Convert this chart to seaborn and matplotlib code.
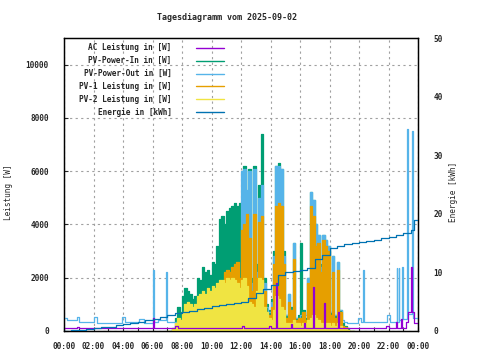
import numpy as np
import pandas as pd
import matplotlib
matplotlib.use("Agg")
import matplotlib.pyplot as plt
from matplotlib.lines import Line2D
import seaborn as sns

title = "Tagesdiagramm vom 2025-09-02"
hour_ticks = list(range(0, 25, 2))
hour_labels = ["00:00", "02:00", "04:00", "06:00", "08:00", "10:00", "12:00",
               "14:00", "16:00", "18:00", "20:00", "22:00", "00:00"]

series_labels = ["AC Leistung in [W]", "PV-Power-In in [W]", "PV-Power-Out in [W]",
                 "PV-1 Leistung in [W]", "PV-2 Leistung in [W]", "Energie in [kWh]"]
series_colors = ["#9400D3", "#009E73", "#56B4E9", "#E69F00", "#F0E442", "#0072B2"]

# daytime values, 10-minute bins starting 07:00
day_start = 7.0
pv_in = [0, 0, 100, 500, 900, 700, 1300, 1600, 1500, 1400, 1200, 1300,
         2000, 1900, 2400, 2200, 2300, 2100, 2600, 2500, 3200, 4200, 4300, 4000,
         4500, 4600, 4700, 4800, 4700, 4800, 4800, 6200, 5000, 6100, 2000, 6200,
         2500, 5500, 7400, 2000, 1000, 800, 1200, 3000, 6200, 6300, 6100, 3000,
         600, 1400, 900, 3300, 500, 600, 3300, 800, 500, 2000, 5200, 4900,
         4000, 3600, 2500, 3600, 3400, 3200, 700, 2800, 600, 2600, 800, 300,
         200, 100, 0, 0]
pv_out_day = [350, 350, 350, 350, 400, 400, 350, 350, 350, 350, 350, 350,
              350, 350, 350, 350, 350, 350, 350, 350, 400, 400, 400, 400,
              400, 400, 400, 400, 400, 400, 6000, 6100, 5300, 6000, 1800, 6100,
              2200, 5000, 5500, 1800, 900, 700, 1100, 2800, 6200, 6200, 6100, 2800,
              600, 1400, 800, 3300, 500, 500, 600, 700, 600, 2000, 5200, 4900,
              4000, 3600, 2400, 3600, 3400, 3200, 700, 2800, 600, 2600, 800, 400,
              350, 300, 300, 300]
pv1 = [0, 0, 50, 100, 200, 250, 300, 300, 250, 350, 300, 350,
       400, 350, 450, 400, 500, 450, 600, 700, 900, 1400, 1800, 2200,
       2300, 2200, 2400, 2500, 2600, 2000, 3800, 4000, 4400, 3500, 1500, 4400,
       2000, 4100, 4300, 1500, 700, 600, 900, 2500, 4700, 4800, 4700, 2500,
       500, 1100, 800, 2700, 400, 500, 500, 700, 400, 1800, 4700, 4300,
       3200, 3300, 2200, 3400, 3200, 3000, 600, 2200, 500, 2300, 700, 200,
       150, 50, 0, 0]
pv2 = [0, 0, 100, 300, 500, 400, 700, 1000, 1100, 1000, 900, 1000,
       1300, 1400, 1500, 1400, 1600, 1500, 1700, 1600, 1800, 1900, 1900, 1800,
       2000, 1900, 2000, 1900, 1800, 1600, 1900, 2000, 1700, 1100, 1000, 900,
       1500, 2000, 1900, 900, 700, 500, 400, 800, 1300, 1200, 900, 800,
       300, 300, 300, 400, 300, 300, 200, 300, 300, 400, 500, 600,
       500, 400, 300, 300, 300, 300, 200, 300, 200, 300, 200, 100,
       100, 50, 0, 0]

# PV-Power-Out outside the daytime bins (hour, W)
out_night_t = [0.0, 0.2, 0.88, 1.05, 2.0, 2.25, 3.93, 4.15, 5.08, 5.4, 6.05, 6.12, 6.4, 6.93, 6.99]
out_night_v = [500, 400, 520, 350, 520, 300, 520, 350, 450, 300, 2300, 350, 400, 2200, 350]
out_eve_t = [19.667, 19.93, 20.15, 20.25, 20.32, 21.9, 22.1, 22.55, 22.6,
             22.68, 22.73, 22.9, 22.95, 23.25, 23.32, 23.62, 23.69, 24.0]
out_eve_v = [300, 480, 350, 2300, 350, 600, 330, 2350, 330,
             2350, 400, 2400, 450, 7600, 650, 7500, 500, 500]

# AC Leistung (hour, W)
ac_t = [0.0, 0.85, 1.0, 3.9, 4.1, 6.05, 6.12, 7.5, 7.7, 12.1,
        12.2, 13.9, 14.0, 14.35, 14.45, 15.4, 15.45, 16.3, 16.35, 16.85,
        16.92, 16.98, 17.6, 17.68, 18.58, 18.66, 20.4, 21.85, 22.0, 22.5,
        22.58, 22.88, 22.94, 23.2, 23.3, 23.55, 23.62, 23.7, 24.0]
ac_v = [100, 140, 100, 130, 100, 500, 100, 200, 100, 200,
        100, 200, 100, 1800, 100, 250, 100, 300, 100, 1650,
        800, 100, 1050, 100, 700, 100, 130, 200, 130, 350,
        130, 450, 130, 350, 700, 2400, 700, 300, 300]

# Energie (hour, kWh)
energy_t = [0, 0.5, 1, 1.5, 2, 2.5, 3, 3.5, 4, 4.5, 5, 5.5, 6, 6.5, 7, 7.5, 8, 8.5,
            9, 9.5, 10, 10.5, 11, 11.5, 12, 12.5, 13, 13.5, 14, 14.5, 15, 15.5, 16,
            16.5, 17, 17.5, 18, 18.5, 19, 19.5, 20, 20.5, 21, 21.5, 22, 22.5, 23,
            23.5, 23.7, 24]
energy_kwh = [0, 0.1, 0.25, 0.35, 0.45, 0.6, 0.75, 0.95, 1.15, 1.4, 1.6, 1.85, 2.1,
              2.4, 2.8, 3.0, 3.2, 3.45, 3.7, 3.95, 4.2, 4.4, 4.6, 4.8, 5.0, 5.6,
              6.4, 7.2, 7.9, 9.6, 10.0, 10.2, 10.4, 10.8, 12.3, 13.0, 14.1, 14.5,
              14.8, 15.0, 15.2, 15.4, 15.6, 15.8, 16.0, 16.3, 16.8, 17.3, 18.9, 18.9]

# ---------------------------------------------------------------
sns.set_style("white")
plt.rcParams['font.family'] = ['DejaVu Sans Mono', 'DejaVu Sans']
plt.rcParams['font.weight'] = 'bold'
FS = 5.6

t_day = day_start + np.arange(len(pv_in)) / 6.0
t_day_ext = np.append(t_day, day_start + len(pv_in) / 6.0)
def ext(v):
    return np.append(np.asarray(v, float), 0.0)

out_t = np.concatenate([out_night_t, t_day, out_eve_t])
out_v = np.concatenate([out_night_v, pv_out_day, out_eve_v])
out_fill = np.where(np.asarray(pv_out_day) > 1000, pv_out_day, 0)

fig = plt.figure(figsize=(4.8, 3.6), dpi=100)
ax = fig.add_axes([64 / 480, 29 / 360, 354 / 480, 293 / 360])

c_ac, c_in, c_out, c_p1, c_p2, c_en = series_colors
lw = 0.9

def step(x, y, color, z, axis):
    sns.lineplot(x=np.asarray(x, float), y=np.asarray(y, float), ax=axis, color=color,
                 drawstyle="steps-post", lw=lw, estimator=None, sort=False,
                 errorbar=None, zorder=z)

# PV-Power-In
ax.fill_between(t_day_ext, ext(pv_in), step="post", color=c_in, lw=0, zorder=3)
step(t_day_ext, ext(pv_in), c_in, 3.1, ax)
# PV-Power-Out
ax.fill_between(t_day_ext, ext(out_fill), step="post", color=c_out, lw=0, zorder=4)
step(out_t, out_v, c_out, 4.1, ax)
# PV-1
ax.fill_between(t_day_ext, ext(pv1), step="post", color=c_p1, lw=0, zorder=5)
step(t_day_ext, ext(pv1), c_p1, 5.1, ax)
# PV-2
ax.fill_between(t_day_ext, ext(pv2), step="post", color=c_p2, lw=0, zorder=6)
step(t_day_ext, ext(pv2), c_p2, 6.1, ax)
# AC
step(ac_t, ac_v, c_ac, 7, ax)

ax.set_xlim(0, 24)
ax.set_ylim(0, 11000)
ax.set_xticks(hour_ticks)
ax.set_xticklabels(hour_labels)
ax.set_xticks(range(0, 25), minor=True)
ax.set_yticks(range(0, 10001, 2000))
ax.set_yticklabels([str(v) for v in range(0, 10001, 2000)])
ax.tick_params(axis="x", which="both", direction="in", length=3, width=0.8,
               labelsize=FS, pad=8, bottom=True, top=False)
ax.tick_params(axis="y", which="major", direction="in", length=3, width=0.8,
               labelsize=FS, pad=11, left=True, right=True)
ax.set_axisbelow(True)
ax.grid(True, which="major", color="#a0a0a0", linestyle=(0, (2, 3)), lw=0.8)
ax.set_xlabel("")
ax.set_ylabel("Leistung [W]", fontsize=FS)
ax.yaxis.set_label_coords(-0.143, 0.475)
for s in ax.spines.values():
    s.set_color("black")
    s.set_linewidth(0.9)

ax2 = ax.twinx()
step(energy_t, energy_kwh, c_en, 8, ax2)
ax2.set_ylim(0, 50)
ax2.set_yticks(range(0, 51, 10))
ax2.tick_params(axis="y", length=0, labelsize=FS, pad=11)
ax2.set_ylabel("Energie [kWh]", fontsize=FS)
ax2.yaxis.set_label_coords(1.087, 0.475)
ax2.grid(False)
for s in ax2.spines.values():
    s.set_color("black")
    s.set_linewidth(0.9)

fig.text(227 / 480, 1 - 17.7 / 360, title, ha="center", va="center", fontsize=6.0)

# legend (gnuplot style: right-aligned text, sample line to the right)
for i, (lab, col) in enumerate(zip(series_labels, series_colors)):
    yy = 1 - (47.7 + 12.9 * i) / 360
    fig.text(171.7 / 480, yy, lab, ha="right", va="center", fontsize=FS)
    fig.add_artist(Line2D([196 / 480, 224 / 480], [yy, yy], color=col, lw=1.0))

fig.savefig("out.png", dpi=100)
